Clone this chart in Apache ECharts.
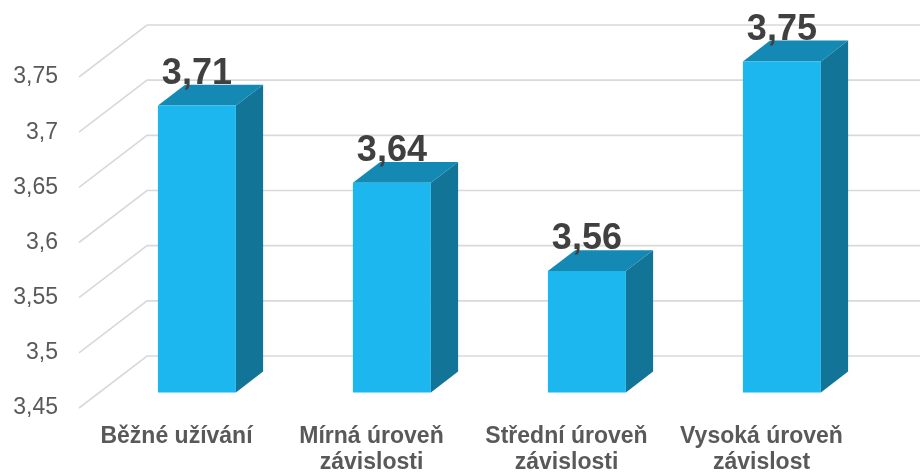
<!DOCTYPE html>
<html>
<head>
<meta charset="utf-8">
<script src="https://cdn.jsdelivr.net/npm/echarts@6/dist/echarts.min.js"></script>
<style>
  html, body { margin: 0; padding: 0; background: #fff; }
  #chart { width: 920px; height: 476px; }
</style>
</head>
<body>
<div id="chart"></div>
<script>
// data
const categories = ['Běžné užívání', 'Mírná úroveň\nzávislosti', 'Střední úroveň\nzávislosti', 'Vysoká úroveň\nzávislost'];
const values = [3.71, 3.64, 3.56, 3.75];
const yTicks = [3.45, 3.5, 3.55, 3.6, 3.65, 3.7, 3.75];

const FONT = '"Liberation Sans", Arial, sans-serif';
// oblique depth of the floor (front edge -> back wall), px
const DEPTH_X = 68, DEPTH_Y = -52;
const BAR_FRONT = 0.3, BAR_DEPTH = 0.4, BAR_WIDTH = 0.4;
const BASE = 3.45;

const chart = echarts.init(document.getElementById('chart'));

// back wall + diagonal gridlines
const wallItem = (params, api) => {
  const cs = params.coordSys;
  const y = api.coord([0, api.value(0)])[1];
  const x0 = cs.x;
  const x1 = cs.x + cs.width + DEPTH_X + 20;
  return {
    type: 'polyline',
    shape: { points: [[x0, y], [x0 + DEPTH_X, y + DEPTH_Y], [x1, y + DEPTH_Y]] },
    style: { stroke: '#d9d9d9', lineWidth: 1.6, fill: null },
    silent: true
  };
};

// 3d-ish bars
const barItem = (params, api) => {
  const i = api.value(0);
  const v = api.value(1);
  const band = api.size([1, 0])[0];
  const c = api.coord([i, v]);
  const b = api.coord([i, BASE]);
  const w = band * BAR_WIDTH;
  const fx = DEPTH_X * BAR_FRONT, fy = DEPTH_Y * BAR_FRONT;
  const dx = DEPTH_X * BAR_DEPTH, dy = DEPTH_Y * BAR_DEPTH;
  const xl = c[0] - w / 2 + fx, xr = c[0] + w / 2 + fx;
  const yt = c[1] + fy, yb = b[1] + fy;
  return {
    type: 'group',
    children: [
      {
        type: 'polygon',
        shape: { points: [[xr, yt], [xr + dx, yt + dy], [xr + dx, yb + dy], [xr, yb]] },
        style: { fill: '#127597' }
      },
      {
        type: 'polygon',
        shape: { points: [[xl, yt], [xr, yt], [xr + dx, yt + dy], [xl + dx, yt + dy]] },
        style: { fill: '#1389b4' }
      },
      {
        type: 'rect',
        shape: { x: xl, y: yt, width: w, height: yb - yt },
        style: { fill: '#1bb7ee' }
      },
      {
        type: 'text',
        x: (xl + xr) / 2,
        y: yt + dy + 7,
        style: {
          text: String(v).replace('.', ','),
          fill: '#404040',
          font: 'bold 36px ' + FONT,
          align: 'center',
          verticalAlign: 'bottom'
        }
      }
    ]
  };
};

chart.setOption({
  animation: false,
  backgroundColor: '#fff',
  grid: { left: 79, right: 61, top: 77, bottom: 67 },
  xAxis: {
    type: 'category',
    data: categories,
    axisLine: { show: false },
    axisTick: { show: false },
    axisLabel: {
      margin: 16,
      interval: 0,
      color: '#595959',
      fontFamily: FONT,
      fontWeight: 'bold',
      fontSize: 23,
      lineHeight: 26
    }
  },
  yAxis: {
    type: 'value',
    min: 3.45,
    max: 3.75,
    interval: 0.05,
    splitLine: { show: false },
    axisLine: { show: false },
    axisTick: { show: false },
    axisLabel: {
      margin: 21,
      color: '#595959',
      fontFamily: FONT,
      fontSize: 23,
      formatter: (val) => String(Math.round(val * 100) / 100).replace('.', ',')
    }
  },
  series: [
    {
      type: 'custom',
      renderItem: wallItem,
      data: yTicks.map((t) => [t]),
      encode: { y: 0 },
      z: 1,
      silent: true
    },
    {
      type: 'custom',
      renderItem: barItem,
      data: values.map((v, i) => [i, v]),
      encode: { x: 0, y: 1 },
      z: 2
    }
  ]
});
</script>
</body>
</html>
